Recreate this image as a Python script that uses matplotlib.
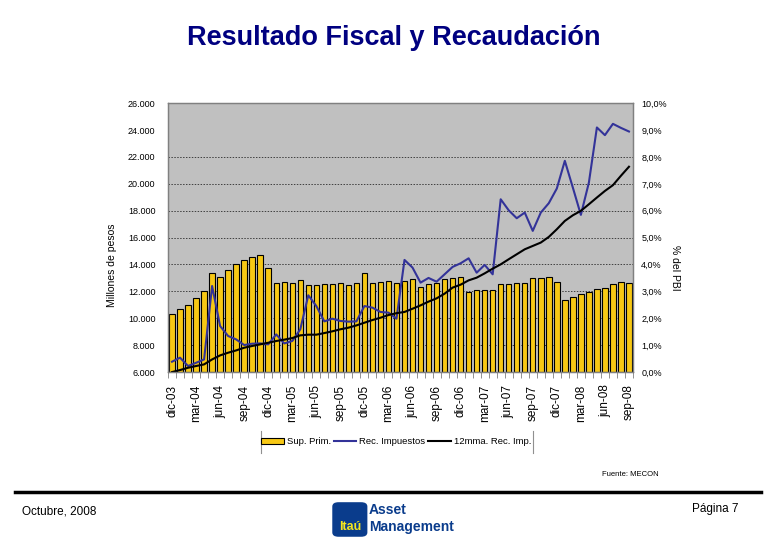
import numpy as np
import matplotlib
matplotlib.use("Agg")
import matplotlib.pyplot as plt
from matplotlib.patches import FancyBboxPatch
from matplotlib.lines import Line2D

plt.rcParams['font.family'] = ['Liberation Sans', 'DejaVu Sans']

# monthly, dic-03 .. sep-08
tick_labels = ['dic-03', 'mar-04', 'jun-04', 'sep-04', 'dic-04', 'mar-05', 'jun-05',
               'sep-05', 'dic-05', 'mar-06', 'jun-06', 'sep-06', 'dic-06', 'mar-07',
               'jun-07', 'sep-07', 'dic-07', 'mar-08', 'jun-08', 'sep-08']

# primary surplus, % del PBI (right axis)
sup_prim = [2.15, 2.33, 2.48, 2.76, 3.00, 3.67, 3.53, 3.80, 4.00, 4.16, 4.27, 4.35,
            3.86, 3.30, 3.34, 3.32, 3.43, 3.22, 3.22, 3.27, 3.27, 3.30, 3.22, 3.30,
            3.67, 3.30, 3.34, 3.38, 3.30, 3.38, 3.45, 3.18, 3.27, 3.30, 3.45, 3.48,
            3.53, 2.99, 3.04, 3.04, 3.04, 3.27, 3.27, 3.32, 3.32, 3.48, 3.48, 3.53,
            3.34, 2.67, 2.78, 2.89, 2.99, 3.08, 3.12, 3.27, 3.34, 3.30]

# tax revenue, millones de pesos (left axis)
rec_imp = [6770, 7070, 6450, 6690, 6940, 12400, 9420, 8680, 8430, 8010, 8110, 8130,
           8060, 8800, 8130, 8310, 9180, 11710, 10910, 9770, 9970, 9800, 9750, 9770,
           10910, 10790, 10470, 10420, 9970, 14340, 13770, 12650, 13000, 12720, 13270, 13820,
           14090, 14460, 13390, 13970, 13270, 18850, 18030, 17440, 17860, 16500, 17860, 18560,
           19650, 21710, 19720, 17690, 20090, 24190, 23620, 24460, 24160, 23890]

# 12 month moving average of tax revenue
mma_12 = [6000, 6150, 6320, 6450, 6570, 6940, 7240, 7440, 7610, 7810, 7940, 8060,
          8180, 8310, 8410, 8530, 8730, 8780, 8780, 8900, 9030, 9180, 9300, 9470,
          9670, 9870, 10040, 10240, 10380, 10470, 10710, 10960, 11240, 11480, 11830, 12280,
          12500, 12820, 13020, 13340, 13690, 14010, 14390, 14760, 15130, 15380, 15630, 16050,
          16620, 17240, 17660, 17990, 18480, 18980, 19470, 19900, 20600, 21270]

n = len(sup_prim)
x = np.arange(n)

fig = plt.figure(figsize=(7.8, 5.4), dpi=100)
ax_pct = fig.add_axes([0.2154, 0.311, 0.5961, 0.498])
ax = ax_pct.twinx()

ax_pct.set_facecolor('#C0C0C0')
ax_pct.set_axisbelow(True)
bars = ax_pct.bar(x, sup_prim, width=0.68, color='#F7C815', edgecolor='black',
                  linewidth=0.8, label='Sup. Prim.')
ax_pct.set_ylim(0, 10)
ax_pct.set_yticks(np.arange(0, 11, 1))
ax_pct.set_yticklabels([('%.1f%%' % v).replace('.', ',') for v in range(11)])
ax_pct.yaxis.tick_right()
ax_pct.yaxis.grid(True, color='#404040', linestyle=(0, (1.5, 1.5)), linewidth=0.7)
for i, gl in enumerate(ax_pct.get_ygridlines()):
    if i == 0 or i >= 9:
        gl.set_visible(False)

l1, = ax.plot(x, rec_imp, color='#333399', linewidth=1.5, label='Rec. Impuestos')
l2, = ax.plot(x, mma_12, color='black', linewidth=1.5, label='12mma. Rec. Imp.')
ax.set_ylim(6000, 26000)
ax.set_yticks(np.arange(6000, 26001, 2000))
ax.set_yticklabels(['{:,}'.format(v).replace(',', '.') for v in range(6000, 26001, 2000)])
ax.yaxis.tick_left()

ax_pct.set_xlim(-0.5, n - 0.5)
ax_pct.set_xticks(x[::3])
ax_pct.set_xticklabels(tick_labels, rotation=90)
ax_pct.set_xticks(np.arange(-0.5, n, 1), minor=True)
ax_pct.tick_params(axis='x', which='major', length=0, pad=9, labelsize=8.5)
ax_pct.tick_params(axis='x', which='minor', length=4, direction='out', color='#808080')
ax_pct.tick_params(axis='y', length=0, pad=6, labelsize=6.5)
ax.tick_params(axis='y', length=0, pad=9, labelsize=6.5)

for a in (ax, ax_pct):
    for s in a.spines.values():
        s.set_color('#808080')
        s.set_linewidth(0.9)

fig.text(0.144, 0.508, 'Millones de pesos', rotation=90, ha='center', va='center', fontsize=7.5)
fig.text(0.866, 0.504, '% del PBI', rotation=270, ha='center', va='center', fontsize=7.5)

leg = fig.legend([bars, l1, l2], ['Sup. Prim.', 'Rec. Impuestos', '12mma. Rec. Imp.'],
                 loc='center', bbox_to_anchor=(0.508, 0.182), ncol=3, frameon=False,
                 fontsize=6.8, handlelength=2.4, handleheight=0.5, columnspacing=0.3,
                 handletextpad=0.3)
fig.add_artist(Line2D([0.335, 0.335], [0.162, 0.202], color='#909090', lw=0.8))
fig.add_artist(Line2D([0.683, 0.683], [0.162, 0.202], color='#909090', lw=0.8))

fig.text(0.505, 0.929, 'Resultado Fiscal y Recaudación', ha='center', va='center',
         fontsize=19.5, fontweight='bold', color='#000080')

fig.text(0.808, 0.122, 'Fuente: MECON', ha='center', va='center', fontsize=5.5)
fig.add_artist(Line2D([0.019, 0.975], [0.089, 0.089], color='black', lw=2.5))
fig.text(0.028, 0.053, 'Octubre, 2008', ha='left', va='center', fontsize=8.5)
fig.text(0.947, 0.057, 'Página 7', ha='right', va='center', fontsize=8.5)

# logo
fig.add_artist(FancyBboxPatch((0.426, 0.006), 0.045, 0.064, boxstyle='round,pad=0,rounding_size=0.008',
                              transform=fig.transFigure, facecolor='#0A3C8C', edgecolor='none'))
fig.text(0.4485, 0.024, 'Itaú', ha='center', va='center', fontsize=9, fontweight='bold',
         color='#F5E61E')
fig.text(0.473, 0.055, 'Asset', ha='left', va='center', fontsize=10, fontweight='bold',
         color='#0A3C8C')
fig.text(0.473, 0.024, 'Management', ha='left', va='center', fontsize=10, fontweight='bold',
         color='#0A3C8C')

fig.savefig('out.png', dpi=100)
